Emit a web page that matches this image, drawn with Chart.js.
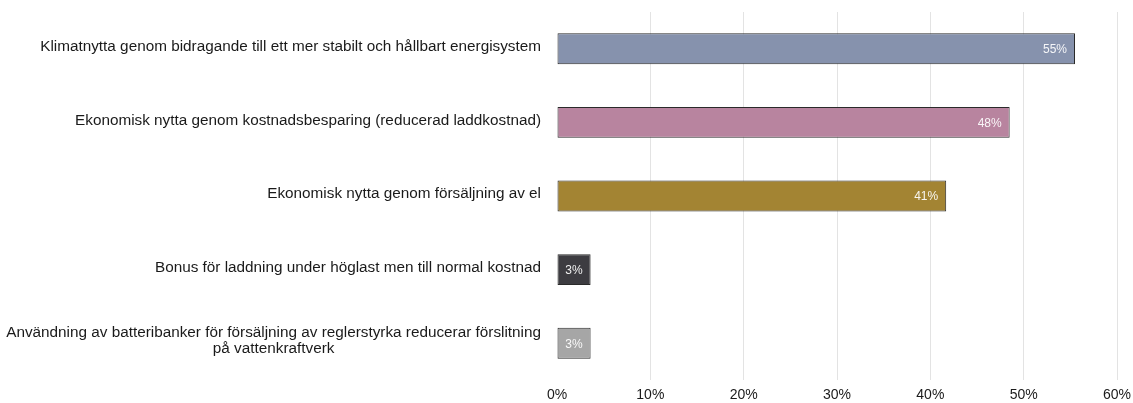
<!DOCTYPE html>
<html>
<head>
<meta charset="utf-8">
<script src="https://cdn.jsdelivr.net/npm/chart.js@4"></script>
<style>
html,body{margin:0;padding:0;background:#fff;}
#wrap{width:1133px;height:403px;position:relative;}
</style>
</head>
<body>
<div id="wrap"><canvas id="c" width="1133" height="403"></canvas></div>
<script>
const categories = [
  ["Klimatnytta genom bidragande till ett mer stabilt och hållbart energisystem"],
  ["Ekonomisk nytta genom kostnadsbesparing (reducerad laddkostnad)"],
  ["Ekonomisk nytta genom försäljning av el"],
  ["Bonus för laddning under höglast men till normal kostnad"],
  ["Användning av batteribanker för försäljning av reglerstyrka reducerar förslitning", "på vattenkraftverk"]
];
const values = [55.5, 48.5, 41.7, 3.6, 3.6];
const valueLabels = ["55%", "48%", "41%", "3%", "3%"];
const barColors = ["#8692ad", "#b8849f", "#a38433", "#3d3c41", "#a6a6a6"];
const xTicks = [0, 10, 20, 30, 40, 50, 60];

const FONT = "'Liberation Sans', Arial, sans-serif";

const labelPlugin = {
  id: 'customLabels',
  afterDatasetsDraw(chart) {
    const ctx = chart.ctx;
    const meta = chart.getDatasetMeta(0);
    ctx.save();
    ctx.font = "12px " + FONT;
    ctx.fillStyle = "rgba(255,255,255,0.92)";
    ctx.textAlign = "right";
    ctx.textBaseline = "middle";
    meta.data.forEach((bar, i) => {
      ctx.fillText(valueLabels[i], bar.x - 8, bar.y + 1);
    });
    ctx.restore();
  },
  afterDraw(chart) {
    const ctx = chart.ctx;
    const ys = chart.scales.y;
    ctx.save();
    ctx.font = "15.3px " + FONT;
    ctx.fillStyle = "#1a1a1a";
    ctx.textBaseline = "middle";
    const rightEdge = chart.chartArea.left - 16;
    categories.forEach((lines, i) => {
      const cy = ys.getPixelForValue(i);
      const lh = 16;
      const widths = lines.map(l => ctx.measureText(l).width);
      const maxW = Math.max(...widths);
      const center = rightEdge - maxW / 2;
      const startY = cy - 2 - (lines.length - 1) * lh / 2;
      lines.forEach((l, j) => {
        ctx.textAlign = "center";
        ctx.fillText(l, center, startY + j * lh);
      });
    });
    ctx.restore();
  }
};

new Chart(document.getElementById('c'), {
  type: 'bar',
  data: {
    labels: categories,
    datasets: [{
      data: values,
      backgroundColor: barColors,
      borderColor: "#2a2a2a",
      borderWidth: 1,
      borderSkipped: false,
      barPercentage: 0.42,
      categoryPercentage: 1
    }]
  },
  options: {
    indexAxis: 'y',
    responsive: false,
    animation: false,
    layout: { padding: { top: 12, right: 16, bottom: 2, left: 0 } },
    plugins: { legend: { display: false }, tooltip: { enabled: false } },
    scales: {
      x: {
        min: 0, max: 60,
        afterBuildTicks(scale) { scale.ticks = xTicks.map(v => ({ value: v })); },
        afterFit(scale) { scale.height = 21; scale.paddingRight = 0; scale.paddingLeft = 0; },
        grid: {
          drawTicks: false,
          color: ctx => ctx.tick && ctx.tick.value === 0 ? 'rgba(0,0,0,0)' : '#e3e3e3',
          lineWidth: 1
        },
        border: { display: false },
        ticks: {
          padding: 7,
          color: "#1a1a1a",
          font: { family: FONT, size: 14 },
          callback: v => v + "%"
        }
      },
      y: {
        afterFit(scale) { scale.width = 557; },
        grid: { display: false, drawTicks: false },
        border: { display: false },
        ticks: { display: false }
      }
    }
  },
  plugins: [labelPlugin]
});
</script>
</body>
</html>
